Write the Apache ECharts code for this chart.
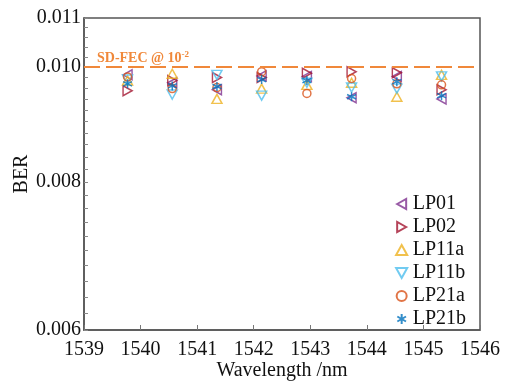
<!DOCTYPE html>
<html>
<head>
<meta charset="utf-8">
<script src="https://cdn.jsdelivr.net/npm/echarts@6/dist/echarts.min.js"></script>
<style>
  html, body { margin: 0; padding: 0; background: #fff; }
  #chart { width: 505px; height: 384px; }
</style>
</head>
<body>
<div id="chart"></div>
<script>
// wavelength channels (nm)
var wavelengths = [1539.77, 1540.56, 1541.35, 1542.14, 1542.94, 1543.73, 1544.53, 1545.32];
// BER per mode
var lp01  = [0.00985, 0.00970, 0.00957, 0.00983, 0.00982, 0.00942, 0.00982, 0.00940];
var lp02  = [0.00955, 0.00974, 0.00980, 0.00980, 0.00988, 0.00991, 0.00989, 0.00957];
var lp11a = [0.00974, 0.00987, 0.00940, 0.00959, 0.00966, 0.00970, 0.00944, 0.00985];
var lp11b = [0.00976, 0.00948, 0.00985, 0.00946, 0.00970, 0.00961, 0.00959, 0.00982];
var lp21a = [0.00981, 0.00959, 0.00961, 0.00991, 0.00950, 0.00978, 0.00968, 0.00966];
var lp21b = [0.00968, 0.00964, 0.00963, 0.00976, 0.00974, 0.00944, 0.00972, 0.00946];
var fecLimit = 0.010;
var yLabels = [0.006, 0.008, 0.010, 0.011];
var yMin = 0.006, yMax = 0.011;

var serif = '"Liberation Serif", "DejaVu Serif", serif';
// marker shapes (matlab style <, >, ^, v, o, *)
var triLeft  = 'path://M0,5L9,0L9,10Z';
var triRight = 'path://M9,5L0,0L0,10Z';
var triUp    = 'path://M5,0L10,9L0,9Z';
var triDown  = 'path://M5,9L10,0L0,0Z';
var star     = 'path://M0,-10L0,10M-8.66,-5L8.66,5M-8.66,5L8.66,-5';

// log axis done by hand: plot log10(BER) on a value axis
function lg(v) { return Math.log10(v); }
function pts(arr) {
  return arr.map(function (v, i) { return [wavelengths[i], lg(v)]; });
}

// minor ticks every 0.0002
var tickVals = [];
for (var t = 60; t <= 110; t += 2) tickVals.push(lg(t / 10000));

function mode(name, arr, color, symbol, size) {
  return {
    name: name,
    type: 'scatter',
    data: pts(arr),
    symbol: symbol,
    symbolSize: size,
    itemStyle: {
      color: symbol === star ? color : 'rgba(255,255,255,0)',
      borderColor: color,
      borderWidth: 1.5
    },
    emphasis: { disabled: true }
  };
}

var series = [
  mode('LP01', lp01, '#7E2F8E', triLeft, [9, 10]),
  mode('LP02', lp02, '#A2142F', triRight, [9, 10]),
  mode('LP11a', lp11a, '#EDB120', triUp, [10, 9]),
  mode('LP11b', lp11b, '#4DBEEE', triDown, [10, 9]),
  mode('LP21a', lp21a, '#D95319', 'circle', 8),
  mode('LP21b', lp21b, '#0072BD', star, 9)
];

series[0].markLine = {
  silent: true,
  symbol: 'none',
  lineStyle: { color: '#F0883A', width: 2, type: [16, 6] },
  label: {
    position: 'insideStartTop',
    distance: [13, 0],
    formatter: '{a|SD-FEC @ 10}{b|-2}',
    rich: {
      a: { fontFamily: serif, fontSize: 14, fontWeight: 'bold', color: '#F0883A' },
      b: { fontFamily: serif, fontSize: 9, fontWeight: 'bold', color: '#F0883A', padding: [0, 0, 8, 0] }
    }
  },
  data: [{ yAxis: lg(fecLimit) }]
};

var chart = echarts.init(document.getElementById('chart'));
chart.setOption({
  animation: false,
  grid: {
    left: 84, right: 25, top: 18, bottom: 54,
    outerBoundsMode: 'none',
    show: true, borderColor: '#555', borderWidth: 1.5
  },
  legend: {
    orient: 'vertical',
    right: 34, top: 189,
    itemWidth: 12, itemHeight: 10, itemGap: 3,
    textStyle: { fontFamily: serif, fontSize: 20, color: '#111' },
    data: series.map(function (s) { return s.name; })
  },
  xAxis: {
    type: 'value',
    min: 1539, max: 1546, interval: 1,
    name: 'Wavelength /nm',
    nameLocation: 'middle',
    nameGap: 31,
    nameMoveOverlap: false,
    nameTextStyle: { fontFamily: serif, fontSize: 20, color: '#111' },
    axisLine: { lineStyle: { color: '#555', width: 1.5 } },
    axisTick: { inside: true, length: 5, lineStyle: { color: '#777' } },
    axisLabel: {
      fontFamily: serif, fontSize: 20, color: '#111', margin: 10,
      formatter: function (v) { return String(v); }
    },
    splitLine: { show: false }
  },
  yAxis: {
    type: 'value',
    min: lg(yMin), max: lg(yMax),
    name: 'BER',
    nameLocation: 'middle',
    nameGap: 52,
    nameMoveOverlap: false,
    nameTextStyle: { fontFamily: serif, fontSize: 20, color: '#111' },
    axisLine: { show: true, lineStyle: { color: '#555', width: 1.5 } },
    axisTick: { inside: true, length: 4, customValues: tickVals, lineStyle: { color: '#888' } },
    axisLabel: {
      fontFamily: serif, fontSize: 20, color: '#111', margin: 3,
      customValues: yLabels.map(lg),
      formatter: function (v) { return Math.pow(10, v).toFixed(3); }
    },
    splitLine: { show: false }
  },
  series: series
});
</script>
</body>
</html>
